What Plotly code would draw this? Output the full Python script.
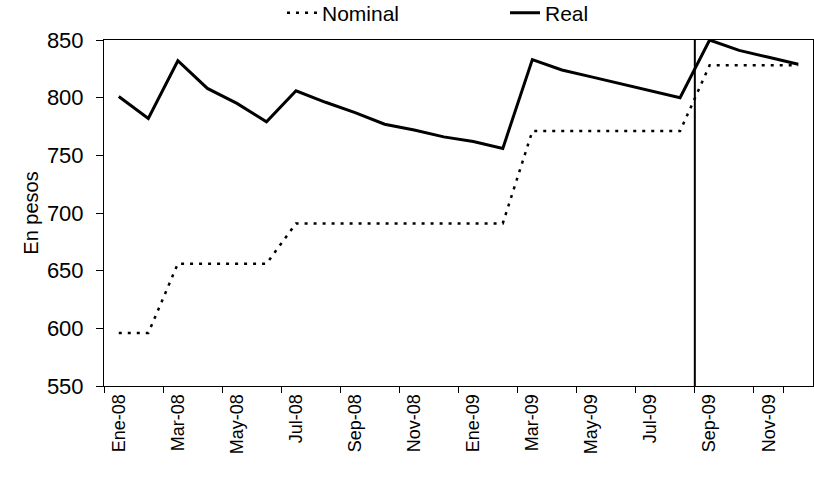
import plotly.graph_objects as go

months = ["Ene-08", "Feb-08", "Mar-08", "Abr-08", "May-08", "Jun-08",
          "Jul-08", "Ago-08", "Sep-08", "Oct-08", "Nov-08", "Dic-08",
          "Ene-09", "Feb-09", "Mar-09", "Abr-09", "May-09", "Jun-09",
          "Jul-09", "Ago-09", "Sep-09", "Oct-09", "Nov-09", "Dic-09"]

nominal = [596, 596, 656, 656, 656, 656,
           691, 691, 691, 691, 691, 691,
           691, 691, 771, 771, 771, 771,
           771, 771, 828, 828, 828, 828]

real = [801, 782, 832, 808, 795, 779,
        806, 796, 787, 777, 772, 766,
        762, 756, 833, 824, 818, 812,
        806, 800, 850, 841, 835, 829]

tick_months = months[::2]
marker_between = ("Ago-09", "Sep-09")  # vertical reference line between these months

FONT = "Liberation Sans, Arial, sans-serif"

fig = go.Figure()
fig.add_trace(go.Scatter(
    x=months, y=nominal, mode="lines", name="Nominal",
    line=dict(color="black", width=2.5, dash="3px,6px"),
))
fig.add_trace(go.Scatter(
    x=months, y=real, mode="lines", name="Real",
    line=dict(color="black", width=3),
))

xpos = (months.index(marker_between[0]) + months.index(marker_between[1])) / 2
fig.add_shape(type="line", xref="x", yref="y", x0=xpos, x1=xpos, y0=550, y1=850,
              line=dict(color="black", width=2))

fig.update_layout(
    width=814, height=477,
    margin=dict(l=104, r=1, t=40, b=91, autoexpand=False),
    paper_bgcolor="white", plot_bgcolor="white",
    font=dict(family=FONT, size=18, color="black"),
    showlegend=True,
    legend=dict(orientation="h", xref="container", yref="container",
                x=282 / 814, xanchor="left", y=1 - 13 / 477, yanchor="middle",
                font=dict(size=21), entrywidth=178, entrywidthmode="pixels",
                bgcolor="rgba(0,0,0,0)", itemwidth=30),
)
fig.update_xaxes(
    type="category", categoryorder="array", categoryarray=months,
    range=[-0.5, len(months) - 0.5],
    tickmode="array", tickvals=tick_months, ticktext=tick_months,
    tickangle=-90, tickson="boundaries", ticks="outside", ticklen=6,
    tickcolor="black", tickfont=dict(size=18),
    showline=True, linecolor="black", linewidth=1, mirror=True,
    showgrid=False, zeroline=False, automargin=False,
)
fig.update_yaxes(
    range=[550, 850], dtick=50, tick0=550,
    ticks="outside", ticklen=7, tickcolor="black", tickfont=dict(size=22),
    ticklabelstandoff=8,
    showline=True, linecolor="black", linewidth=1, mirror=True,
    showgrid=False, zeroline=False, automargin=False,
    title=dict(text="En pesos", font=dict(size=20), standoff=2),
)

fig.write_html("out.html", config={"displayModeBar": False},
               post_script="document.body.style.margin='0';document.body.style.overflow='hidden';")
